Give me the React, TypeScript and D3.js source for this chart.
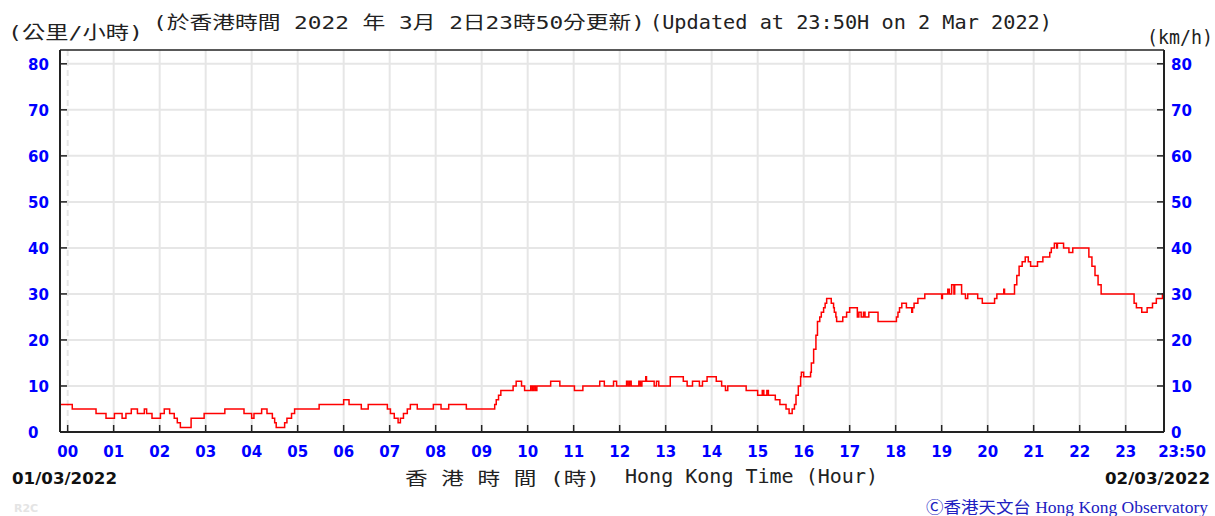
import React from 'react';
import * as d3 from 'd3';

// minutes after 00:00 on 01/03/2022 where the 10-min mean wind speed changes
const changeMinute = [
    -10, 6, 37, 50, 61, 71, 76, 83, 91, 100, 103, 110, 121, 126, 133, 139, 143, 147, 161, 178,
    205, 230, 240, 243, 253, 260, 267, 270, 272, 283, 286, 292, 296, 328, 360, 367, 383, 392, 417, 421,
    426, 431, 434, 438, 443, 447, 456, 477, 487, 497, 520, 557, 559, 562, 565, 581, 585, 592, 596, 604,
    606, 608, 610, 612, 630, 642, 661, 672, 694, 700, 712, 716, 729, 731, 733, 735, 745, 747, 749, 754,
    755, 765, 768, 771, 786, 803, 808, 815, 824, 828, 834, 846, 853, 858, 861, 885, 900, 906, 908, 912,
    914, 923, 929, 937, 941, 945, 948, 950, 953, 956, 957, 960, 969, 970, 973, 976, 978, 981, 983, 986,
    988, 990, 996, 999, 1000, 1002, 1003, 1011, 1016, 1020, 1030, 1032, 1035, 1038, 1040, 1045, 1057, 1081, 1083, 1085,
    1088, 1094, 1101, 1102, 1104, 1109, 1118, 1140, 1141, 1148, 1150, 1153, 1156, 1157, 1166, 1171, 1174, 1187, 1193, 1209,
    1212, 1221, 1222, 1235, 1238, 1241, 1245, 1249, 1253, 1256, 1265, 1272, 1281, 1283, 1287, 1290, 1291, 1299, 1306, 1311,
    1332, 1336, 1340, 1344, 1348, 1391, 1394, 1401, 1408, 1415, 1420, 1428, 1430,
];
const windSpeed = [
    6, 5, 4, 3, 4, 3, 4, 5, 4, 5, 4, 3, 4, 5, 4, 3, 2, 1, 3, 4,
    5, 4, 3, 4, 5, 4, 3, 2, 1, 2, 3, 4, 5, 6, 7, 6, 5, 6, 5, 4,
    3, 2, 3, 4, 5, 6, 5, 6, 5, 6, 5, 6, 7, 8, 9, 10, 11, 10, 9, 10,
    9, 10, 9, 10, 11, 10, 9, 10, 11, 10, 11, 10, 11, 10, 11, 10, 11, 10, 11, 12,
    11, 10, 11, 10, 12, 11, 10, 11, 10, 11, 12, 11, 10, 9, 10, 9, 8, 9, 8, 9,
    8, 7, 6, 5, 4, 5, 6, 8, 10, 12, 13, 12, 13, 15, 18, 21, 24, 25, 26, 27,
    28, 29, 28, 27, 26, 25, 24, 25, 26, 27, 25, 26, 25, 26, 25, 26, 24, 25, 26, 27,
    28, 27, 26, 27, 28, 29, 30, 29, 30, 31, 30, 32, 30, 32, 30, 29, 30, 29, 28, 29,
    30, 31, 30, 32, 34, 36, 37, 38, 37, 36, 37, 38, 39, 40, 41, 40, 41, 40, 39, 40,
    38, 36, 34, 32, 30, 28, 27, 26, 27, 28, 29, 30, 30,
];

const hourTicks = d3.range(0, 24);
const hourLabels = hourTicks.map(h => d3.format("02d")(h));
const endMinute = 1430;
const endLabel = "23:50";
const speedTicks = [0, 10, 20, 30, 40, 50, 60, 70, 80];

const titleUnitZh = "(公里/小時)";
const titleZh = "(於香港時間 2022 年 3月 2日23時50分更新)";
const titleEn = "(Updated at 23:50H on 2 Mar 2022)";
const unitEn = "(km/h)";
const xTitleZh = "香 港 時 間 (時)";
const xTitleEn = "Hong Kong Time (Hour)";
const startDate = "01/03/2022";
const endDate = "02/03/2022";
const credit = "Ⓒ香港天文台 Hong Kong Observatory";

const W = 1215;
const H = 516;
const margin = { top: 50, right: 51, bottom: 84, left: 60 };
const mono = "'DejaVu Sans Mono', 'Noto Sans CJK TC', monospace";
const blue = "#0000ff";

type Pt = { m: number; v: number };

export default function App() {
    const data: Pt[] = changeMinute.map((m, i) => ({ m, v: windSpeed[i] }));

    const x = d3.scaleLinear().domain([-10, endMinute]).range([margin.left, W - margin.right]);
    const y = d3.scaleLinear().domain([0, 83]).range([H - margin.bottom, margin.top]);

    const line = d3.line<Pt>()
        .x(d => x(d.m))
        .y(d => y(d.v))
        .curve(d3.curveStepAfter);

    const x0 = margin.left, x1 = W - margin.right;
    const y0 = H - margin.bottom, y1 = margin.top;

    return (
        <svg width={W} height={H} style={{ position: 'absolute', left: 0, top: 0, background: '#fff' }}>
            {/* grid */}
            {speedTicks.filter(t => t > 0).map(t => (
                <line key={'h' + t} x1={x0} x2={x1} y1={y(t)} y2={y(t)} stroke="#e6e6e6" strokeWidth={2} />
            ))}
            {hourTicks.map(h => (
                <line key={'v' + h} x1={x(h * 60)} x2={x(h * 60)} y1={y1} y2={y0}
                    stroke="#e6e6e6" strokeWidth={2} strokeDasharray={h === 0 ? '6,4' : undefined} />
            ))}

            {/* wind speed */}
            <path d={line(data) ?? ''} fill="none" stroke="#ff0000" strokeWidth={1.5} />

            {/* frame */}
            <line x1={x0} x2={x1} y1={y1} y2={y1} stroke="#222" strokeWidth={1.5} />
            <line x1={x0} x2={x1} y1={y0} y2={y0} stroke="#222" strokeWidth={2} />
            <line x1={x0} x2={x0} y1={y1} y2={y0} stroke="#222" strokeWidth={2} />
            <line x1={x1} x2={x1} y1={y1} y2={y0} stroke="#222" strokeWidth={2} />

            {/* y axes */}
            {speedTicks.map(t => (
                <g key={'y' + t}>
                    <line x1={x0} x2={x0 + 7} y1={y(t)} y2={y(t)} stroke="#222" strokeWidth={1.5} />
                    <line x1={x1 - 7} x2={x1} y1={y(t)} y2={y(t)} stroke="#222" strokeWidth={1.5} />
                    <text x={28} y={y(t) + 6} fontFamily="'DejaVu Sans', sans-serif" fontWeight="bold"
                        fontSize={15} fill={blue}>{t}</text>
                    <text x={x1 + 7} y={y(t) + 6} fontFamily="'DejaVu Sans', sans-serif" fontWeight="bold"
                        fontSize={15} fill={blue}>{t}</text>
                </g>
            ))}

            {/* x axis */}
            {hourTicks.map((h, i) => (
                <g key={'x' + h}>
                    <line x1={x(h * 60)} x2={x(h * 60)} y1={y0 - 7} y2={y0} stroke="#222" strokeWidth={1.5} />
                    <text x={x(h * 60)} y={y0 + 25} textAnchor="middle" fontFamily="'DejaVu Sans', sans-serif"
                        fontWeight="bold" fontSize={15} fill={blue}>{hourLabels[i]}</text>
                </g>
            ))}
            <text x={x(endMinute) + 18} y={y0 + 25} textAnchor="middle" fontFamily="'DejaVu Sans', sans-serif"
                fontWeight="bold" fontSize={15} fill={blue}>{endLabel}</text>

            {/* titles */}
            <text x={8} y={39} fontFamily={mono} fontSize={18} textLength={135} lengthAdjust="spacingAndGlyphs" fill="#222">{titleUnitZh}</text>
            <text x={153} y={29} fontFamily={mono} fontSize={18} textLength={492} lengthAdjust="spacingAndGlyphs" fill="#222">{titleZh}</text>
            <text x={650} y={29} fontFamily={mono} fontSize={19} textLength={402} lengthAdjust="spacingAndGlyphs" fill="#222">{titleEn}</text>
            <text x={1213} y={44} textAnchor="end" fontFamily={mono} fontSize={19} textLength={66} lengthAdjust="spacingAndGlyphs" fill="#222">{unitEn}</text>

            <text x={405} y={485} fontFamily={mono} fontSize={18} textLength={195} lengthAdjust="spacingAndGlyphs" fill="#222">{xTitleZh}</text>
            <text x={625} y={483} fontFamily={mono} fontSize={19} textLength={253} lengthAdjust="spacingAndGlyphs" fill="#222">{xTitleEn}</text>

            <text x={12} y={484} fontFamily="'DejaVu Sans', sans-serif" fontWeight="bold" fontSize={16}
                textLength={105} lengthAdjust="spacingAndGlyphs" fill="#111">{startDate}</text>
            <text x={1210} y={484} textAnchor="end" fontFamily="'DejaVu Sans', sans-serif" fontWeight="bold" fontSize={16}
                textLength={105} lengthAdjust="spacingAndGlyphs" fill="#111">{endDate}</text>

            <text x={1208} y={513} textAnchor="end" fontFamily="'Liberation Serif', 'Noto Sans CJK TC', serif" fontSize={16}
                textLength={282} lengthAdjust="spacingAndGlyphs" fill="#2020c0">{credit}</text>
            <text x={14} y={512} fontFamily="'DejaVu Sans', sans-serif" fontWeight="bold" fontSize={11} fill="#e4e4e4">R2C</text>
        </svg>
    );
}
